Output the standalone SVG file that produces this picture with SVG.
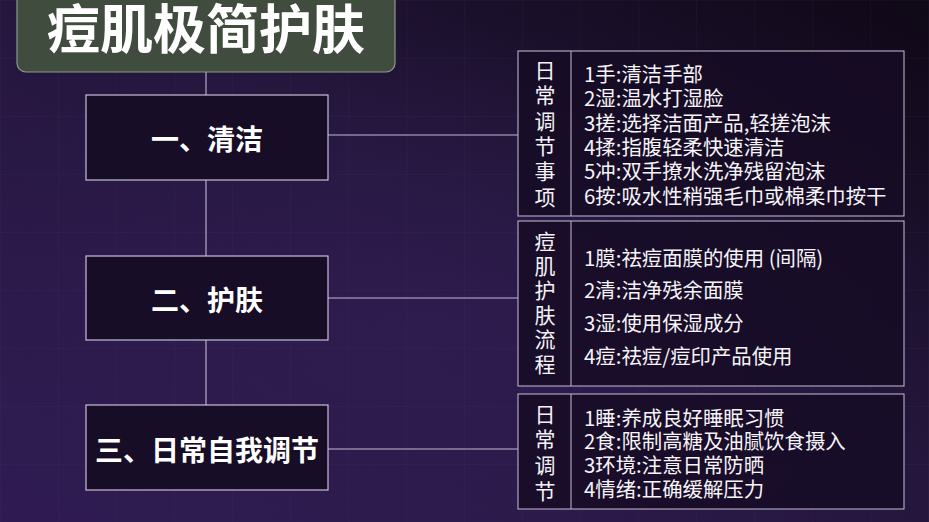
<svg xmlns="http://www.w3.org/2000/svg" width="929" height="522" viewBox="0 0 929 522">
<defs>
<linearGradient id="bg" x1="1" y1="0" x2="0" y2="1">
<stop offset="0" stop-color="#0f0816"/>
<stop offset="0.45" stop-color="#24163c"/>
<stop offset="1" stop-color="#2f1b52"/>
</linearGradient>
<radialGradient id="glow" cx="0.45" cy="0.65" r="0.6">
<stop offset="0" stop-color="#34205a" stop-opacity="0.55"/>
<stop offset="1" stop-color="#34205a" stop-opacity="0"/>
</radialGradient>
<pattern id="grid" width="58" height="58" patternUnits="userSpaceOnUse">
<path d="M0 0V58M0 0H58" stroke="#6a5a90" stroke-width="1" fill="none" opacity="0.12"/>
</pattern>
</defs>
<style>
.node{fill:#170d26;stroke:#c9bfd9;stroke-width:1.2}
.box{fill:#160c24;fill-opacity:0.85;stroke:#b9b0c6;stroke-width:1.1}
.div{stroke:#b9b0c6;stroke-width:1.1}
.conn{stroke:#c2b8d4;stroke-width:1.1;fill:none}
.nt{font-family:"Noto Sans CJK SC","Noto Sans",sans-serif;font-weight:700;font-size:28px;fill:#ffffff;text-anchor:middle;dominant-baseline:central}
.vt{font-family:"Noto Sans CJK SC","Noto Sans",sans-serif;font-size:21px;fill:#f4f2f6;text-anchor:middle;dominant-baseline:central}
.it{font-family:"Noto Sans CJK SC","Noto Sans",sans-serif;font-size:20.4px;fill:#f6f4f8;dominant-baseline:central}
</style>
<rect width="929" height="522" fill="url(#bg)"/>
<rect width="929" height="522" fill="url(#glow)"/>
<rect width="929" height="522" fill="url(#grid)"/>

<g id="connectors">
<line class="conn" x1="206" y1="72" x2="206" y2="405"/>
<line class="conn" x1="328" y1="135" x2="518" y2="135"/>
<line class="conn" x1="328" y1="298" x2="518" y2="298"/>
<line class="conn" x1="328" y1="449" x2="518" y2="449"/>
</g>

<g id="title">
<rect x="17" y="-12" width="378" height="84" rx="9" fill="#404c3e" stroke="#8e978b" stroke-width="1.2"/>
<text x="206" y="26" font-family="Noto Sans CJK SC,sans-serif" font-weight="700" font-size="53" fill="#ffffff" text-anchor="middle" dominant-baseline="central">痘肌极简护肤</text>
</g>

<g id="node1">
<rect class="node" x="86" y="95" width="242" height="85"/>
<text class="nt" x="207" y="138">一、清洁</text>
</g>
<g id="node2">
<rect class="node" x="86" y="256" width="242" height="84"/>
<text class="nt" x="207" y="299">二、护肤</text>
</g>
<g id="node3">
<rect class="node" x="86" y="405" width="242" height="85"/>
<text class="nt" x="207" y="449">三、日常自我调节</text>
</g>

<g id="box1">
<rect class="box" x="518" y="51" width="386" height="165"/>
<line class="div" x1="571" y1="51" x2="571" y2="216"/>
<text class="vt" x="545" y="69">日</text>
<text class="vt" x="545" y="94">常</text>
<text class="vt" x="545" y="120">调</text>
<text class="vt" x="545" y="145">节</text>
<text class="vt" x="545" y="170">事</text>
<text class="vt" x="545" y="196">项</text>
<text class="it" x="584" y="73">1手:清洁手部</text>
<text class="it" x="584" y="97">2湿:温水打湿脸</text>
<text class="it" x="584" y="122">3搓:选择洁面产品,轻搓泡沫</text>
<text class="it" x="584" y="146">4揉:指腹轻柔快速清洁</text>
<text class="it" x="584" y="170">5冲:双手撩水洗净残留泡沫</text>
<text class="it" x="584" y="195">6按:吸水性稍强毛巾或棉柔巾按干</text>
</g>

<g id="box2">
<rect class="box" x="518" y="221" width="386" height="165"/>
<line class="div" x1="571" y1="221" x2="571" y2="386"/>
<text class="vt" x="545" y="240">痘</text>
<text class="vt" x="545" y="265">肌</text>
<text class="vt" x="545" y="289">护</text>
<text class="vt" x="545" y="314">肤</text>
<text class="vt" x="545" y="338">流</text>
<text class="vt" x="545" y="363">程</text>
<text class="it" x="584" y="257">1膜:祛痘面膜的使用 (间隔)</text>
<text class="it" x="584" y="289">2清:洁净残余面膜</text>
<text class="it" x="584" y="322">3湿:使用保湿成分</text>
<text class="it" x="584" y="355">4痘:祛痘/痘印产品使用</text>
</g>

<g id="box3">
<rect class="box" x="518" y="394" width="386" height="115"/>
<line class="div" x1="571" y1="394" x2="571" y2="509"/>
<text class="vt" x="545" y="413">日</text>
<text class="vt" x="545" y="438">常</text>
<text class="vt" x="545" y="464">调</text>
<text class="vt" x="545" y="490">节</text>
<text class="it" x="584" y="417">1睡:养成良好睡眠习惯</text>
<text class="it" x="584" y="440">2食:限制高糖及油腻饮食摄入</text>
<text class="it" x="584" y="464">3环境:注意日常防晒</text>
<text class="it" x="584" y="488">4情绪:正确缓解压力</text>
</g>
</svg>
